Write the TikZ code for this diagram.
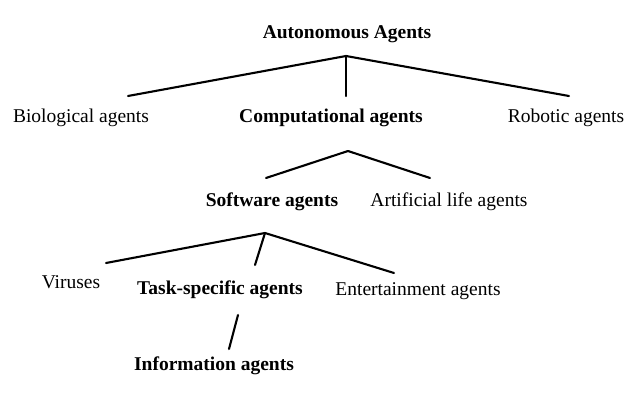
\documentclass[tikz,border=0pt]{standalone}
\usepackage{fontspec}
\setmainfont{Liberation Serif}
\begin{document}
\begin{tikzpicture}[x=1pt,y=-1pt,
  lbl/.style={inner sep=0pt,text height=13pt,text depth=4pt,font=\fontsize{19.5}{22}\selectfont},
  blbl/.style={lbl,font=\fontsize{19.5}{22}\selectfont\bfseries},
  edge/.style={line width=2.1pt,line cap=round}]
\useasboundingbox[fill=white] (0,0) rectangle (640,409);
% labels
\node[blbl] (auto) at (347,34) {Autonomous Agents};
\node[lbl]  (bio)  at (81,118) {Biological agents};
\node[blbl] (comp) at (331,118) {Computational agents};
\node[lbl]  (robo) at (566,118) {Robotic agents};
\node[blbl] (soft) at (272,202) {Software agents};
\node[lbl]  (alife) at (449,202) {Artificial life agents};
\node[lbl]  (vir)  at (71,284) {Viruses};
\node[blbl] (task) at (220,290) {Task-specific agents};
\node[lbl]  (ent)  at (418,291) {Entertainment agents};
\node[blbl] (info) at (214,366) {Information agents};
% connector points
\coordinate (a1) at (346,56);
\coordinate (e1) at (128,96);
\coordinate (e2) at (346,96);
\coordinate (e3) at (569,96);
\coordinate (a2) at (348,151);
\coordinate (f1) at (266,178);
\coordinate (f2) at (430,178);
\coordinate (a3) at (265,233);
\coordinate (g1) at (106,263);
\coordinate (g2) at (255,265);
\coordinate (g3) at (394,273);
\coordinate (h1) at (238,315);
\coordinate (h2) at (229,349);
% connectors
\draw[edge] (a1) -- (e1);
\draw[edge] (a1) -- (e2);
\draw[edge] (a1) -- (e3);
\draw[edge] (a2) -- (f1);
\draw[edge] (a2) -- (f2);
\draw[edge] (a3) -- (g1);
\draw[edge] (a3) -- (g2);
\draw[edge] (a3) -- (g3);
\draw[edge] (h1) -- (h2);
\end{tikzpicture}
\end{document}
